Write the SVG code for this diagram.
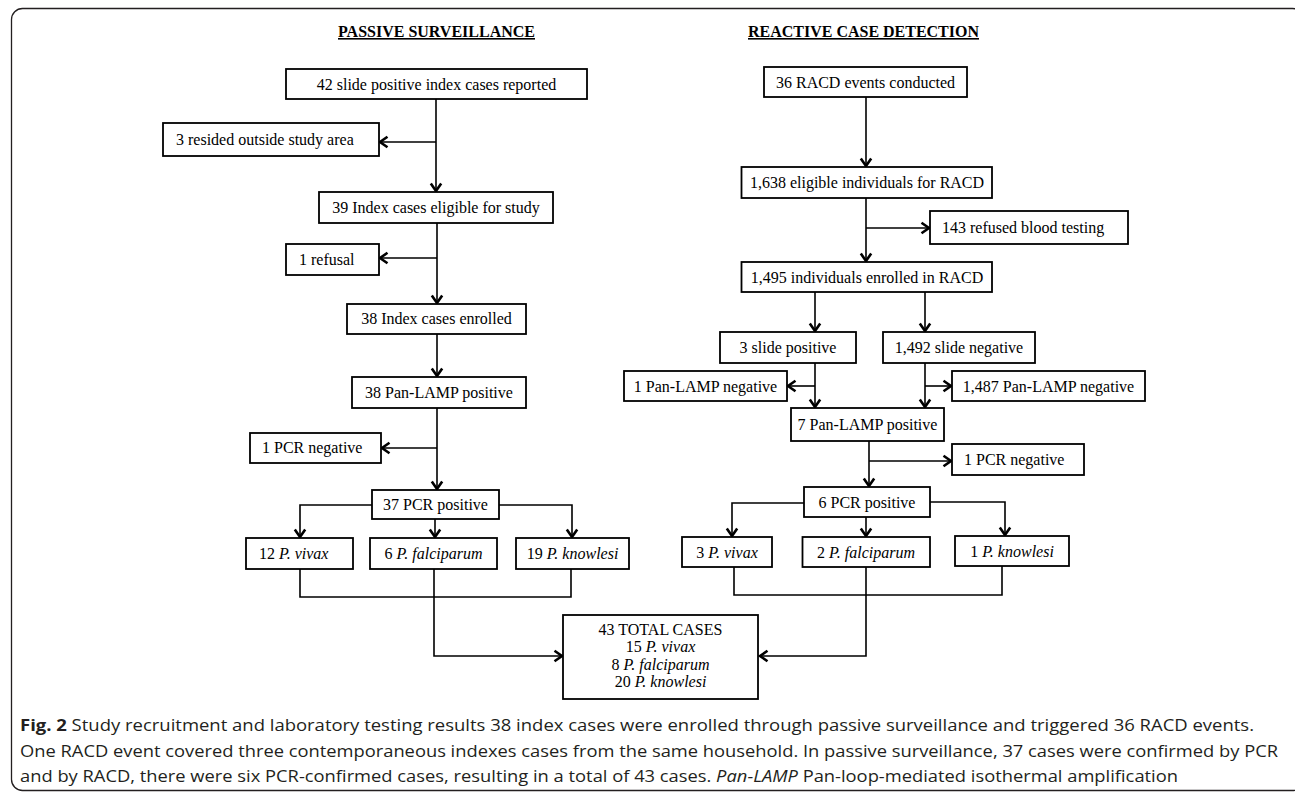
<svg xmlns="http://www.w3.org/2000/svg" width="1295" height="793" viewBox="0 0 1295 793">
<defs>
<marker id="ah" markerWidth="14" markerHeight="14" viewBox="0 0 14 14" refX="11" refY="7" orient="auto" markerUnits="userSpaceOnUse"><path d="M3.5,1.8 L11,7 L3.5,12.2" fill="none" stroke="#000" stroke-width="2.6"/></marker>
<style>
.b{fill:#fff;stroke:#000;stroke-width:1.8}
.t{font-family:"Liberation Serif","Times New Roman",serif;font-size:16px;fill:#000}
.c{text-anchor:middle}
.i{font-style:italic}
.h{font-family:"Liberation Serif","Times New Roman",serif;font-size:16px;font-weight:bold;text-decoration:underline;text-anchor:middle}
.cn{fill:none;stroke:#000;stroke-width:1.6}
.ar{marker-end:url(#ah)}
.cap{font-family:"Open Sans","Liberation Sans",sans-serif;font-size:16px;fill:#231f20}
</style>
</defs>
<rect x="11.5" y="8.5" width="1292" height="782" rx="11" fill="none" stroke="#231f20" stroke-width="1.3"/>
<text class="h" x="436.5" y="37" textLength="197" lengthAdjust="spacingAndGlyphs">PASSIVE SURVEILLANCE</text>
<text class="h" x="863.5" y="37" textLength="231" lengthAdjust="spacingAndGlyphs">REACTIVE CASE DETECTION</text>

<g id="connectors">
<path class="cn ar" d="M436,99 V191"/>
<path class="cn ar" d="M436,142 H380"/>
<path class="cn ar" d="M437,223 V303"/>
<path class="cn ar" d="M437,258 H380"/>
<path class="cn ar" d="M437,334 V376"/>
<path class="cn ar" d="M437,408 V489"/>
<path class="cn ar" d="M437,448 H382"/>
<path class="cn ar" d="M372,505 H300 V537"/>
<path class="cn ar" d="M435,519 V537"/>
<path class="cn ar" d="M499,505 H572 V537"/>
<path class="cn" d="M300,569 V597 H571 V569"/>
<path class="cn ar" d="M434,569 V656 H562"/>

<path class="cn ar" d="M866,97 V166"/>
<path class="cn ar" d="M866,198 V261"/>
<path class="cn ar" d="M866,228 H929"/>
<path class="cn ar" d="M815,292 V331"/>
<path class="cn ar" d="M925,292 V331"/>
<path class="cn ar" d="M815,363 V407"/>
<path class="cn ar" d="M815,386 H788"/>
<path class="cn ar" d="M925,363 V407"/>
<path class="cn ar" d="M925,386 H951"/>
<path class="cn ar" d="M869,441 V486"/>
<path class="cn ar" d="M869,461 H951"/>
<path class="cn ar" d="M804,503 H732 V536"/>
<path class="cn ar" d="M866,517 V536"/>
<path class="cn ar" d="M930,502 H1005 V535"/>
<path class="cn" d="M734,567 V595 H1002 V566"/>
<path class="cn ar" d="M866,567 V656 H760"/>
</g>

<g id="n42"><rect class="b" x="286" y="69" width="301" height="30"/><text class="t c" x="436.5" y="89.5">42 slide positive index cases reported</text></g>
<g id="n3res"><rect class="b" x="163" y="123" width="216" height="33"/><text class="t" x="176" y="145">3 resided outside study area</text></g>
<g id="n39"><rect class="b" x="319" y="192" width="234" height="31"/><text class="t c" x="436" y="213">39 Index cases eligible for study</text></g>
<g id="nref"><rect class="b" x="286" y="244" width="93" height="31"/><text class="t" x="299" y="265">1 refusal</text></g>
<g id="n38e"><rect class="b" x="347" y="304" width="179" height="30"/><text class="t c" x="436.5" y="324">38 Index cases enrolled</text></g>
<g id="n38p"><rect class="b" x="352" y="377" width="174" height="31"/><text class="t c" x="439" y="398">38 Pan-LAMP positive</text></g>
<g id="npcrn1"><rect class="b" x="250" y="433" width="131" height="30"/><text class="t" x="262" y="453">1 PCR negative</text></g>
<g id="n37"><rect class="b" x="372" y="490" width="127" height="29"/><text class="t c" x="435.5" y="510">37 PCR positive</text></g>
<g id="nv12"><rect class="b" x="246" y="538" width="107" height="31"/><text class="t" x="259" y="559">12 <tspan class="i">P. vivax</tspan></text></g>
<g id="nf6"><rect class="b" x="370" y="538" width="127" height="31"/><text class="t c" x="433.5" y="559">6 <tspan class="i">P. falciparum</tspan></text></g>
<g id="nk19"><rect class="b" x="516" y="538" width="113" height="31"/><text class="t c" x="572.5" y="559">19 <tspan class="i">P. knowlesi</tspan></text></g>

<g id="n36"><rect class="b" x="764" y="67" width="203" height="30"/><text class="t c" x="865.5" y="87.5">36 RACD events conducted</text></g>
<g id="n1638"><rect class="b" x="741.5" y="167" width="250.5" height="31"/><text class="t c" x="867" y="188">1,638 eligible individuals for RACD</text></g>
<g id="n143"><rect class="b" x="930" y="211" width="198" height="33"/><text class="t" x="942" y="233">143 refused blood testing</text></g>
<g id="n1495"><rect class="b" x="741.5" y="262" width="250.5" height="30"/><text class="t c" x="867" y="282.5">1,495 individuals enrolled in RACD</text></g>
<g id="nsp"><rect class="b" x="720" y="332" width="136" height="31"/><text class="t c" x="788" y="353">3 slide positive</text></g>
<g id="nsn"><rect class="b" x="883" y="332" width="152" height="31"/><text class="t c" x="959" y="353">1,492 slide negative</text></g>
<g id="npl1"><rect class="b" x="624" y="371" width="163" height="30"/><text class="t c" x="705.5" y="391.5">1 Pan-LAMP negative</text></g>
<g id="npl1487"><rect class="b" x="952" y="371" width="193" height="30"/><text class="t c" x="1048.5" y="391.5">1,487 Pan-LAMP negative</text></g>
<g id="n7"><rect class="b" x="791" y="408" width="153" height="33"/><text class="t c" x="867.5" y="430">7 Pan-LAMP positive</text></g>
<g id="npcrn2"><rect class="b" x="952" y="444" width="132" height="31"/><text class="t" x="964" y="465">1 PCR negative</text></g>
<g id="n6"><rect class="b" x="804" y="487" width="126" height="30"/><text class="t c" x="867" y="507.5">6 PCR positive</text></g>
<g id="nv3"><rect class="b" x="682" y="537" width="90" height="30"/><text class="t c" x="727" y="557.5">3 <tspan class="i">P. vivax</tspan></text></g>
<g id="nf2"><rect class="b" x="802.5" y="537" width="127.5" height="30"/><text class="t c" x="866" y="557.5">2 <tspan class="i">P. falciparum</tspan></text></g>
<g id="nk1"><rect class="b" x="955" y="536" width="114" height="30"/><text class="t c" x="1012" y="556.5">1 <tspan class="i">P. knowlesi</tspan></text></g>

<g id="ntotal"><rect class="b" x="563" y="615" width="195" height="84"/>
<text class="t c" x="660.5" y="635">43 TOTAL CASES</text>
<text class="t c" x="660.5" y="652">15 <tspan class="i">P. vivax</tspan></text>
<text class="t c" x="660.5" y="669.5">8 <tspan class="i">P. falciparum</tspan></text>
<text class="t c" x="660.5" y="687">20 <tspan class="i">P. knowlesi</tspan></text></g>

<g id="caption">
<text class="cap" x="20" y="731" textLength="1234" lengthAdjust="spacingAndGlyphs"><tspan font-weight="bold">Fig. 2</tspan>  Study recruitment and laboratory testing results 38 index cases were enrolled through passive surveillance and triggered 36 RACD events.</text>
<text class="cap" x="20" y="757" textLength="1258" lengthAdjust="spacingAndGlyphs">One RACD event covered three contemporaneous indexes cases from the same household. In passive surveillance, 37 cases were confirmed by PCR</text>
<text class="cap" x="20" y="782" textLength="1158" lengthAdjust="spacingAndGlyphs">and by RACD, there were six PCR-confirmed cases, resulting in a total of 43 cases. <tspan font-style="italic">Pan-LAMP</tspan> Pan-loop-mediated isothermal amplification</text>
</g>
</svg>
